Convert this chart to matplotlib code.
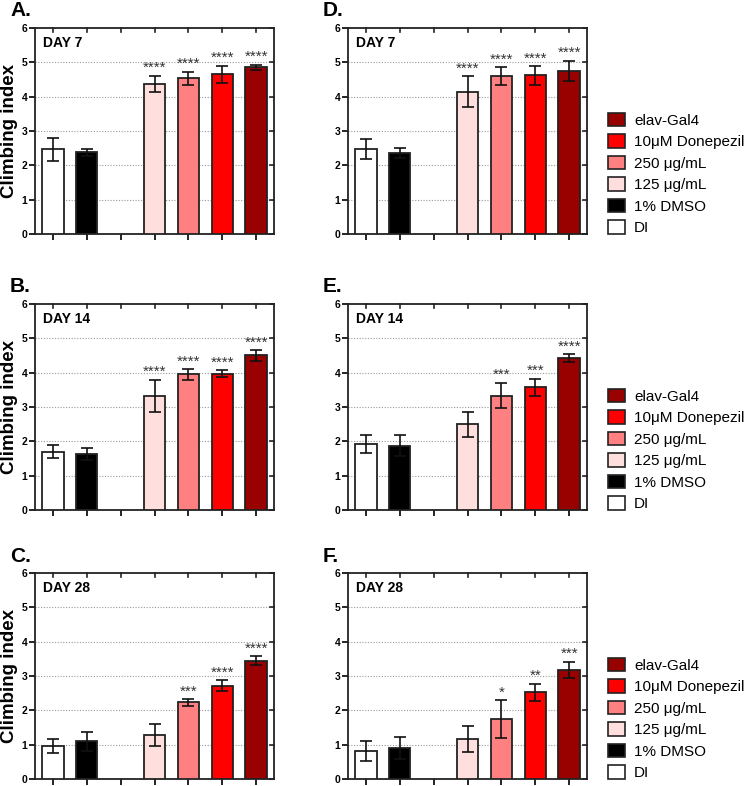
import matplotlib
matplotlib.use("Agg")
import matplotlib.pyplot as plt
from matplotlib.patches import Patch
import numpy as np

plt.rcParams['font.family'] = ['Liberation Sans', 'DejaVu Sans']

groups = ["DI", "1% DMSO", "125 \u03bcg/mL", "250 \u03bcg/mL", "10\u03bcM Donepezil", "elav-Gal4"]
colors = ["#ffffff", "#000000", "#ffdede", "#ff8080", "#ff0000", "#990000"]
xpos = [0, 1, 3, 4, 5, 6]

# panel A-C (left column), D-F (right column)
panel_letters = ["A.", "B.", "C.", "D.", "E.", "F."]
days = ["DAY 7", "DAY 14", "DAY 28", "DAY 7", "DAY 14", "DAY 28"]

means_A = [2.47, 2.38, 4.38, 4.53, 4.65, 4.85]
errs_A = [0.33, 0.10, 0.23, 0.20, 0.25, 0.08]
stars_A = ["", "", "****", "****", "****", "****"]

means_B = [1.70, 1.63, 3.32, 3.95, 3.97, 4.50]
errs_B = [0.18, 0.17, 0.48, 0.15, 0.10, 0.15]
stars_B = ["", "", "****", "****", "****", "****"]

means_C = [0.97, 1.10, 1.27, 2.23, 2.72, 3.45]
errs_C = [0.20, 0.27, 0.32, 0.10, 0.15, 0.13]
stars_C = ["", "", "", "***", "****", "****"]

means_D = [2.47, 2.35, 4.15, 4.60, 4.62, 4.75]
errs_D = [0.30, 0.15, 0.45, 0.25, 0.27, 0.30]
stars_D = ["", "", "****", "****", "****", "****"]

means_E = [1.92, 1.87, 2.50, 3.33, 3.57, 4.42]
errs_E = [0.27, 0.30, 0.36, 0.37, 0.25, 0.12]
stars_E = ["", "", "", "***", "***", "****"]

means_F = [0.81, 0.90, 1.17, 1.75, 2.53, 3.18]
errs_F = [0.30, 0.31, 0.38, 0.55, 0.25, 0.23]
stars_F = ["", "", "", "*", "**", "***"]

all_means = [means_A, means_B, means_C, means_D, means_E, means_F]
all_errs = [errs_A, errs_B, errs_C, errs_D, errs_E, errs_F]
all_stars = [stars_A, stars_B, stars_C, stars_D, stars_E, stars_F]

W, H = 751, 786
fig = plt.figure(figsize=(W / 100, H / 100), dpi=100)

lefts = [35, 348]
tops = [28, 304, 573]
aw, ah = 239, 206

for i in range(6):
    col = i // 3
    row = i % 3
    l = lefts[col]
    t = tops[row]
    ax = fig.add_axes([l / W, 1 - (t + ah) / H, aw / W, ah / H])
    m = all_means[i]
    e = all_errs[i]
    ax.bar(xpos, m, width=0.64, color=colors, edgecolor="#222222", linewidth=1.3, zorder=3)
    ax.errorbar(xpos, m, yerr=e, fmt="none", ecolor="#111111", elinewidth=1.2,
                capsize=4, capthick=1.2, zorder=4)
    for x, y, er, s in zip(xpos, m, e, all_stars[i]):
        if s:
            ax.text(x, y + er + 0.02, s, ha="center", va="bottom", fontsize=11,
                    color="#333333", zorder=5)
    ax.set_xlim(-0.52, 6.52)
    ax.set_ylim(0, 6)
    ax.set_yticks(range(7))
    ax.set_xticks(range(7))
    ax.set_xticklabels([])
    for yy in range(1, 6):
        ax.axhline(yy, color="#999999", linestyle=(0, (1, 1.5)), linewidth=0.8, zorder=1)
    for sp in ax.spines.values():
        sp.set_linewidth(1.3)
        sp.set_color("#222222")
    ax.tick_params(axis="y", left=True, right=False, direction="out",
                   length=4, width=1.2, labelsize=7.5, pad=1.5)
    ax.tick_params(axis="x", bottom=True, top=False, length=4, width=1.2, direction="out")
    for lab in ax.get_yticklabels():
        lab.set_fontweight("bold")
    # inward ticks on top and right
    for yy in range(7):
        ax.plot([6.52, 6.52 - 0.12], [yy, yy], color="#222222", lw=1.2, clip_on=False, zorder=6)
    for xx in range(7):
        ax.plot([xx, xx], [6, 6 - 0.12], color="#222222", lw=1.2, clip_on=False, zorder=6)
    ax.text(8 / aw, 1 - 15 / ah, days[i], transform=ax.transAxes, fontsize=10,
            fontweight="bold", va="center", ha="left")
    fig.text((l - 25) / W, 1 - (t - 17) / H, panel_letters[i], fontsize=15,
             fontweight="bold", va="center", ha="left")
    if col == 0:
        ax.set_ylabel("Climbing index", fontsize=13.5, fontweight="bold")
        ax.yaxis.set_label_coords((1 - l) / aw, 0.5)
        ax.yaxis.label.set_va("top")

handles = [Patch(facecolor=c, edgecolor="#222222", linewidth=1.2) for c in colors]
handles = handles[::-1]
labels = groups[::-1]
for t in tops:
    fig.legend(handles, labels, loc="center left",
               bbox_to_anchor=(608 / W, 1 - (t + 146) / H), frameon=False,
               fontsize=11, handlelength=1.1, handleheight=1.0, handletextpad=0.6,
               labelspacing=0.42, borderaxespad=0, borderpad=0)

fig.savefig("out.png", dpi=100)
